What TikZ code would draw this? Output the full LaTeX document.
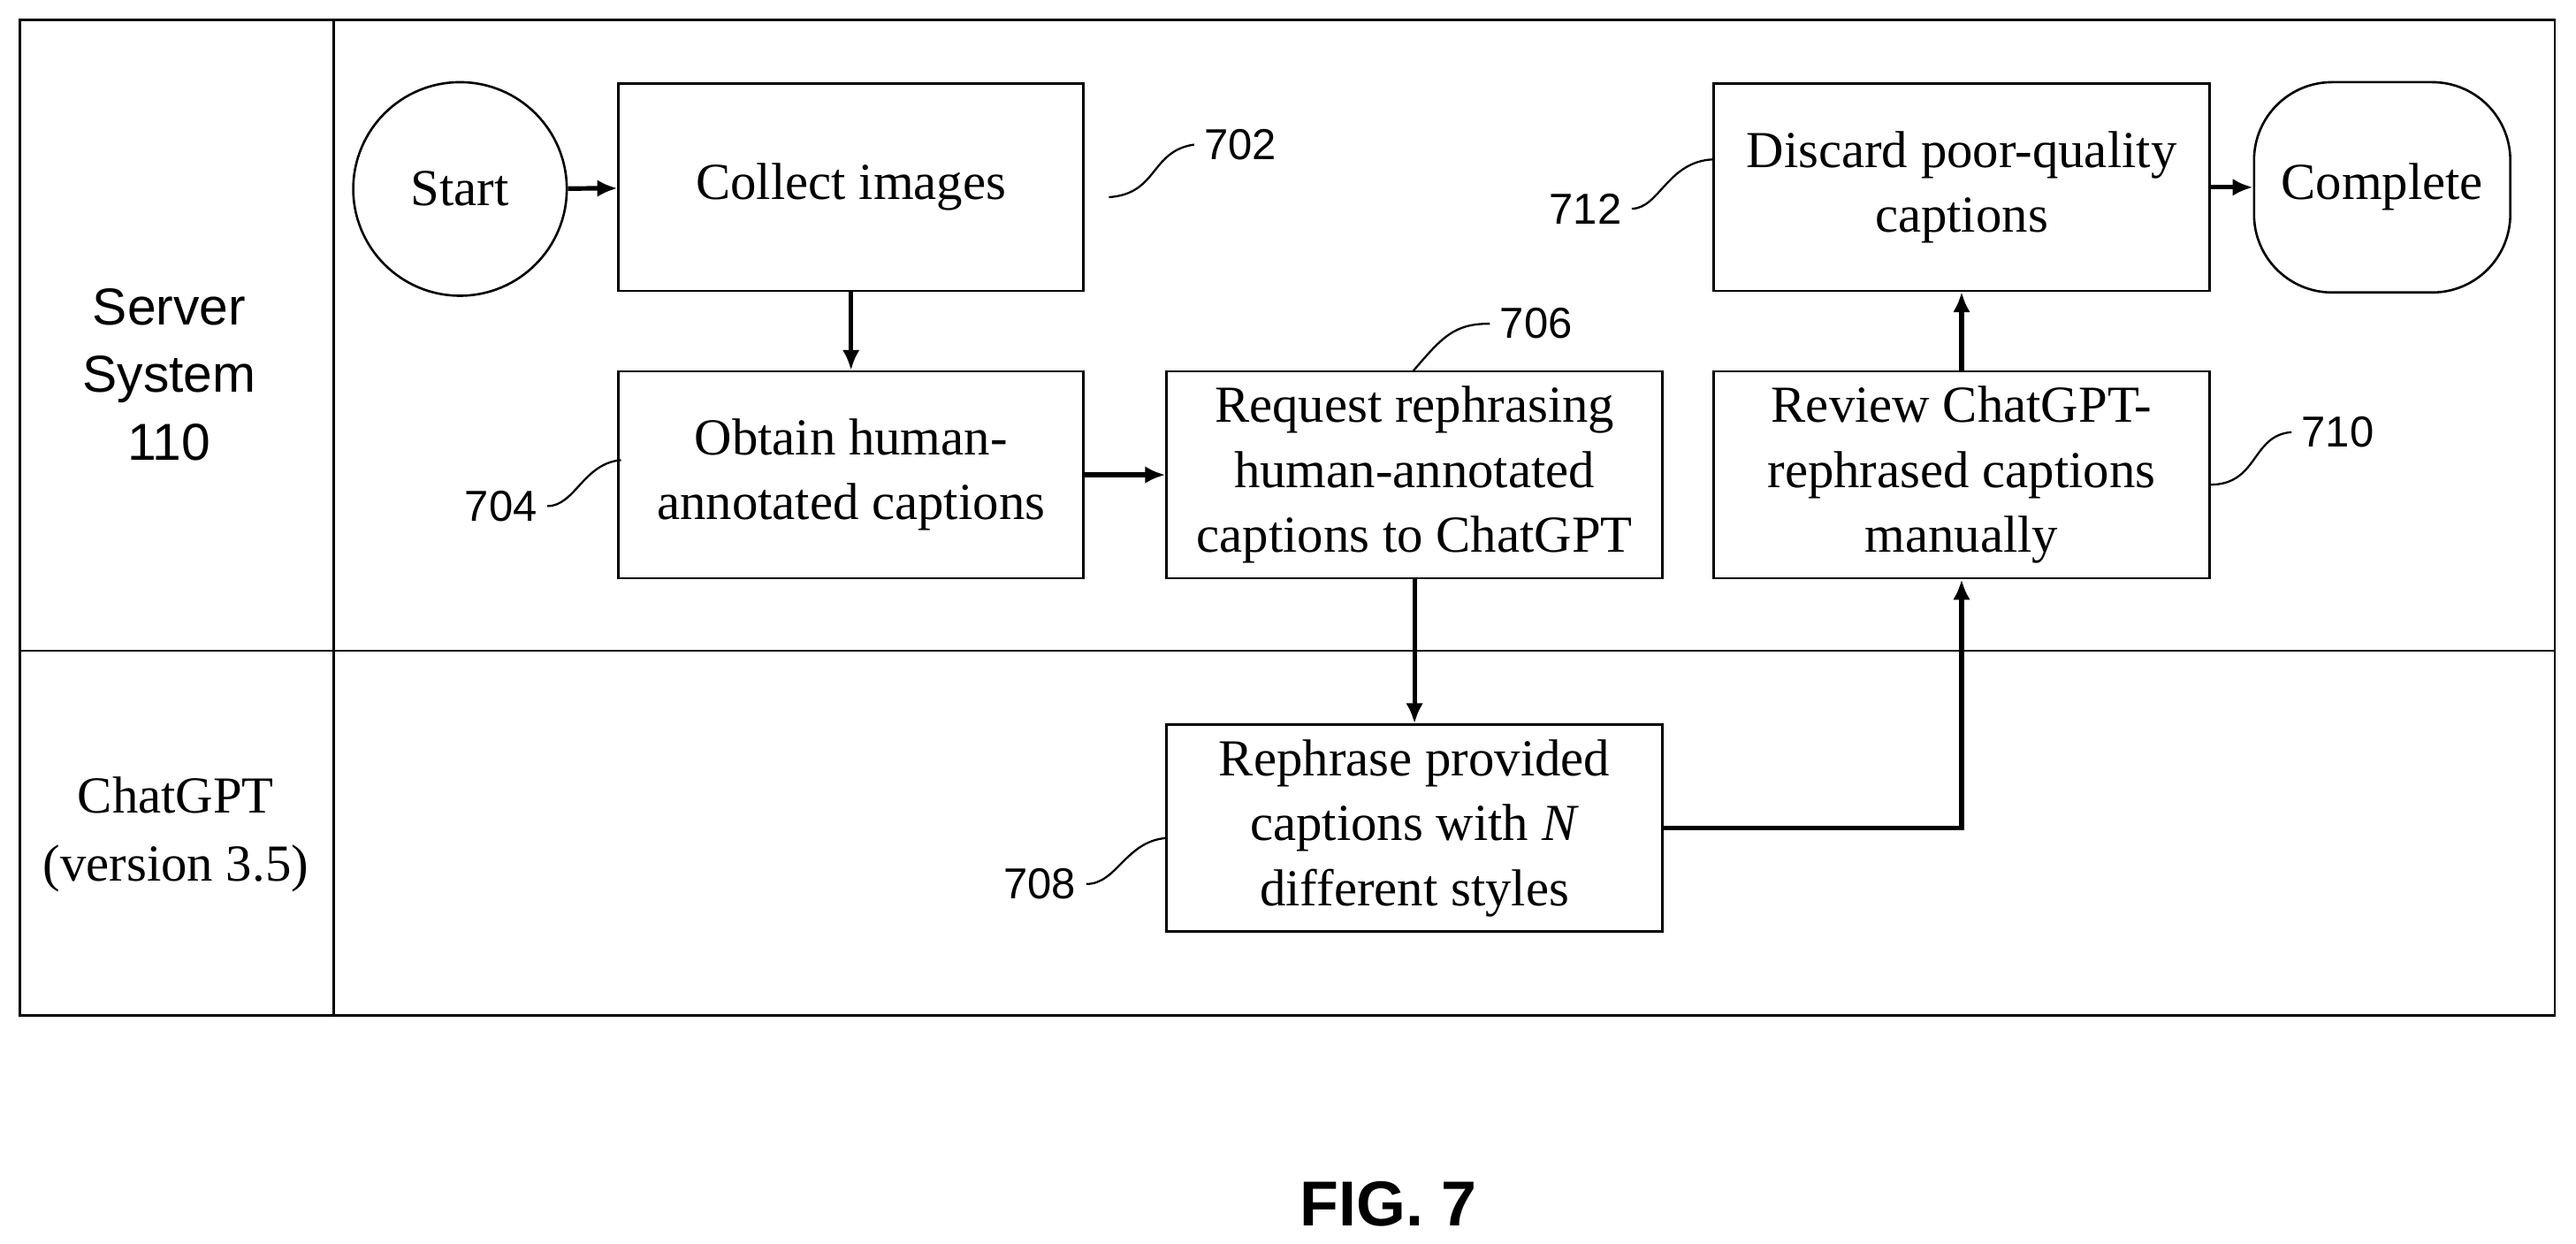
\documentclass[tikz,border=0pt]{standalone}
\usepackage{fontspec}
\setmainfont{Liberation Serif}
\setsansfont{Liberation Sans}
\usetikzlibrary{arrows.meta}
\begin{document}
\begin{tikzpicture}[x=0.02cm,y=-0.02cm,
  box/.style={draw,line width=0.8pt,minimum width=5.66cm,minimum height=2.52cm,align=center,inner sep=0pt,font=\fontsize{18}{22.5}\selectfont},
  arr/.style={line width=1.6pt,-{Latex[length=7pt,width=6pt]}},
  lbl/.style={font=\sffamily\fontsize{15}{18}\selectfont},
  lead/.style={line width=0.7pt}]
\useasboundingbox (0,0) rectangle (1568,757);
\draw[line width=0.8pt] (12,12) rectangle (1555,618);
\draw[line width=0.8pt] (203,12) -- (203,618) (12,396) -- (1555,396);
\node[align=center,font=\sffamily\fontsize{18}{23.5}\selectfont] at (103,228) {Server\\System\\110};
\node[align=center,font=\fontsize{18}{23.5}\selectfont] at (107,508) {ChatGPT\\(version 3.5)};
\node (start) [draw,circle,line width=0.8pt,minimum size=2.6cm,font=\fontsize{18}{22.5}\selectfont] at (280,115) {Start};
\node (c) [box] at (518,114) {Collect images};
\node (o) [box] at (518,289) {Obtain human-\\annotated captions};
\node (r) [box,minimum width=6.04cm] at (861,289) {Request rephrasing\\human-annotated\\captions to ChatGPT};
\node (p) [box,minimum width=6.04cm] at (861,504) {Rephrase provided\\captions with \textit{N}\\different styles};
\node (v) [box,minimum width=6.04cm] at (1194,289) {Review ChatGPT-\\rephrased captions\\manually};
\node (d) [box,minimum width=6.04cm] at (1194,114) {Discard poor-quality\\captions};
\node (e) [draw,line width=0.8pt,rounded corners=0.95cm,minimum width=3.12cm,minimum height=2.56cm,font=\fontsize{18}{22.5}\selectfont] at (1450,114) {Complete};
\draw[arr] (start) -- (c);
\draw[arr] (c) -- (o);
\draw[arr] (o) -- (r);
\draw[arr] (r) -- (p);
\draw[arr] (p.east) -| (v.south);
\draw[arr] (v) -- (d);
\draw[arr] (d) -- (e);
\node (n702) [lbl] at (755,88) {702};
\node (n704) [lbl] at (305,308) {704};
\node (n706) [lbl] at (935,197) {706};
\node (n708) [lbl] at (633,538) {708};
\node (n710) [lbl] at (1423,263) {710};
\node (n712) [lbl] at (965,127) {712};
\draw[lead] (675,120) .. controls (705,118) and (700,92) .. (n702.west);
\draw[lead] (n704.east) .. controls (350,308) and (355,282) .. (378,280);
\draw[lead] (860,226) .. controls (878,205) and (885,197) .. (n706.west);
\draw[lead] (n708.east) .. controls (680,538) and (685,512) .. (710,510);
\draw[lead] (1345,295) .. controls (1375,295) and (1370,265) .. (n710.west);
\draw[lead] (n712.east) .. controls (1010,127) and (1015,98) .. (1043,97);
\node[font=\sffamily\bfseries\fontsize{22}{26}\selectfont] at (845,733) {FIG. 7};
\end{tikzpicture}
\end{document}
